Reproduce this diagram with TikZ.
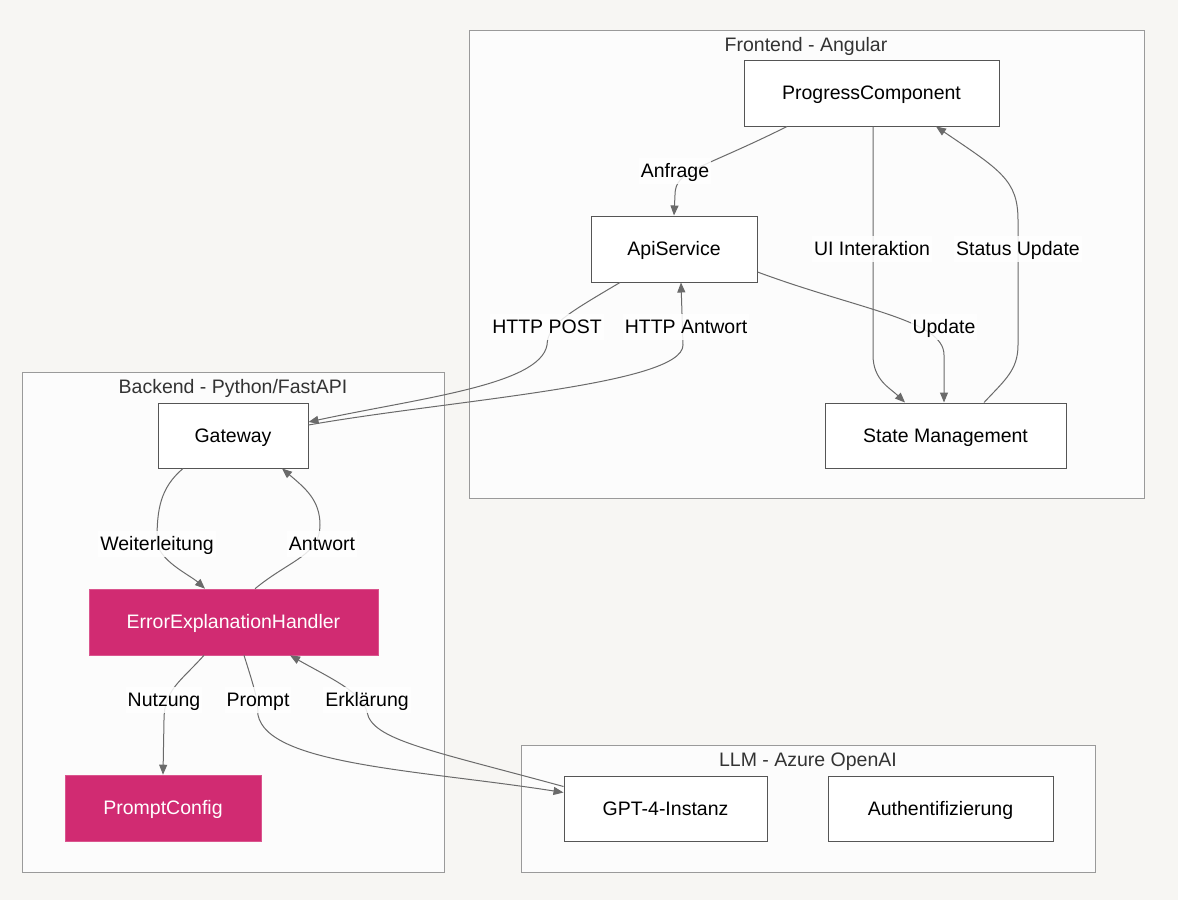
\documentclass[tikz,border=0pt]{standalone}
\usepackage{fontspec}
\setmainfont{Liberation Sans}
\usetikzlibrary{arrows.meta}
\definecolor{pagebg}{HTML}{F7F6F3}
\definecolor{clusterbg}{HTML}{FCFCFC}
\definecolor{clusterline}{HTML}{9A9A9A}
\definecolor{nodeline}{HTML}{555555}
\definecolor{edgecol}{HTML}{6A6A6A}
\definecolor{pinkfill}{HTML}{D12B72}
\definecolor{titlecol}{HTML}{333333}
\tikzset{
  txt/.style={font=\fontsize{19.5}{22}\selectfont, text height=15pt, text depth=1.5pt},
  cluster/.style={draw=clusterline, fill=clusterbg, line width=1pt},
  ctitle/.style={txt, text=titlecol, inner sep=0pt},
  box/.style={txt, draw=nodeline, fill=white, line width=1pt, inner sep=0pt},
  pinkbox/.style={txt, draw=pinkfill!80!white, fill=pinkfill, line width=0.6pt, text=white, inner sep=0pt},
  edge/.style={draw=edgecol, line width=1pt, -{Triangle[length=10pt,width=8pt]}},
  elabel/.style={txt, fill=white, fill opacity=0.85, text opacity=1, inner xsep=2pt, inner ysep=5pt}
}
\begin{document}
\begin{tikzpicture}[x=1pt,y=-1pt]
\useasboundingbox[fill=pagebg] (0,0) rectangle (1178,900);
% clusters
\draw[cluster] (469,30) rectangle (1144,498);
\node[ctitle] (tfront) at (806,45) {Frontend - Angular};
\draw[cluster] (22,372) rectangle (444,872);
\node[ctitle] (tback) at (233,387) {Backend - Python/FastAPI};
\draw[cluster] (521,745) rectangle (1095,872);
\node[ctitle] (tllm) at (808,760) {LLM - Azure OpenAI};
% nodes
\node[box, minimum width=255pt, minimum height=66pt] (PC) at (871.5,93) {ProgressComponent};
\node[box, minimum width=166pt, minimum height=66pt] (API) at (674,249) {ApiService};
\node[box, minimum width=241pt, minimum height=65pt] (SM) at (945.5,435.5) {State Management};
\node[box, minimum width=150pt, minimum height=65pt] (GW) at (233,435.5) {Gateway};
\node[pinkbox, minimum width=289pt, minimum height=66pt] (EEH) at (233.5,622) {ErrorExplanationHandler};
\node[pinkbox, minimum width=196pt, minimum height=66pt] (PCFG) at (163,808) {PromptConfig};
\node[box, minimum width=203pt, minimum height=65pt] (GPT) at (665.5,808.5) {GPT-4-Instanz};
\node[box, minimum width=225pt, minimum height=65pt] (AUTH) at (940.5,808.5) {Authentifizierung};
% edges
\draw[edge] ([xshift=-84.5pt]PC.south) .. controls (700,170) and (675,170) .. (675,195) -- (API.north);
\draw[edge] ([xshift=1.5pt]PC.south) -- (873,355) .. controls (873,380) and (890,388) .. ([xshift=-40.5pt]SM.north);
\draw[edge] ([xshift=38.5pt]SM.north) .. controls (1005,380) and (1018,370) .. (1018,345) -- (1018,220) .. controls (1018,180) and (1000,170) .. ([xshift=64.5pt]PC.south);
\draw[edge] ([yshift=-23pt]API.east) .. controls (860,310) and (944,320) .. (944,355) -- ([xshift=-1.5pt]SM.north);
\draw[edge] ([xshift=-54pt]API.south) .. controls (565,315) and (548,325) .. (547,345) .. controls (540,385) and (420,398) .. ([yshift=13.5pt]GW.east);
\draw[edge] ([yshift=10.5pt]GW.east) .. controls (450,400) and (683,385) .. (683,345) -- ([xshift=7pt]API.south);
\draw[edge] ([xshift=-50pt]GW.south) .. controls (160,488) and (157,510) .. (157,540) .. controls (157,560) and (190,575) .. ([xshift=-28.5pt]EEH.north);
\draw[edge] ([xshift=21.5pt]EEH.north) .. controls (290,560) and (320,555) .. (320,525) .. controls (320,500) and (305,488) .. ([xshift=49pt]GW.south);
\draw[edge] ([xshift=-29.5pt]EEH.south) .. controls (180,682) and (164,690) .. (164,720) -- (PCFG.north);
\draw[edge] ([xshift=10.5pt]EEH.south) .. controls (255,690) and (258,700) .. (258,715) .. controls (268,765) and (420,770) .. ([yshift=16pt]GPT.west);
\draw[edge] ([yshift=22pt]GPT.west) .. controls (430,750) and (372,740) .. (367,712) .. controls (362,692) and (330,678) .. ([xshift=56.5pt]EEH.south);
% edge labels
\node[elabel] (lAnfrage) at (675,171) {Anfrage};
\node[elabel] (lUI) at (872,249) {UI Interaktion};
\node[elabel] (lStatus) at (1018,249) {Status Update};
\node[elabel] (lUpdate) at (944,327) {Update};
\node[elabel] (lPost) at (547,327) {HTTP POST};
\node[elabel] (lHAntw) at (686,327) {HTTP Antwort};
\node[elabel] (lWeiter) at (157,544) {Weiterleitung};
\node[elabel] (lAntw) at (322,544) {Antwort};
\node[elabel] (lNutz) at (164,700) {Nutzung};
\node[elabel] (lPrompt) at (258,700) {Prompt};
\node[elabel] (lErkl) at (367,700) {Erklärung};
\end{tikzpicture}
\end{document}
